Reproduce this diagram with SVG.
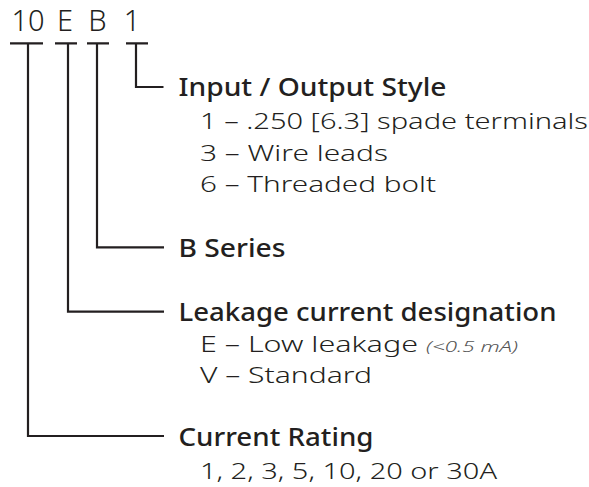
<svg xmlns="http://www.w3.org/2000/svg" width="589" height="487" viewBox="0 0 589 487">
<style>
.code{font-family:"Noto Sans","Liberation Sans",sans-serif;font-size:29px;fill:#231f20;font-weight:300}
.h{font-family:"Noto Sans","Liberation Sans",sans-serif;font-size:25px;fill:#231f20;font-weight:500}
.s{font-family:"Noto Sans","Liberation Sans",sans-serif;font-size:22.5px;fill:#231f20;font-weight:300}
.i{font-family:"Noto Sans","Liberation Sans",sans-serif;font-size:15px;fill:#555;font-style:italic;font-weight:300}
.ln{fill:none;stroke:#231f20;stroke-width:2.2}
</style>
<rect width="589" height="487" fill="#fff"/>
<g id="code">
<text class="code" x="28" y="30.5" text-anchor="middle">10</text>
<text class="code" x="65" y="30.5" text-anchor="middle">E</text>
<text class="code" x="97.5" y="30.5" text-anchor="middle">B</text>
<text class="code" x="132" y="30.5" text-anchor="middle">1</text>
</g>
<g id="connectors">
<path class="ln" d="M10 43.3H43M55 43.3H77M87 43.3H109M126 43.3H148"/>
<path class="ln" d="M136 43V87H163.5"/>
<path class="ln" d="M97 43V247.3H164"/>
<path class="ln" d="M68 43V311.7H164"/>
<path class="ln" d="M28 43V436H164"/>
</g>
<g id="io-style">
<text class="h" x="178.5" y="96" textLength="268" lengthAdjust="spacingAndGlyphs">Input / Output Style</text>
<text class="s" x="200" y="129" textLength="388" lengthAdjust="spacingAndGlyphs">1 – .250 [6.3] spade terminals</text>
<text class="s" x="200" y="161" textLength="188" lengthAdjust="spacingAndGlyphs">3 – Wire leads</text>
<text class="s" x="200" y="192" textLength="236" lengthAdjust="spacingAndGlyphs">6 – Threaded bolt</text>
</g>
<g id="series">
<text class="h" x="178.5" y="257" textLength="107" lengthAdjust="spacingAndGlyphs">B Series</text>
</g>
<g id="leakage">
<text class="h" x="178.5" y="321" textLength="378" lengthAdjust="spacingAndGlyphs">Leakage current designation</text>
<text class="s" x="200" y="352" textLength="218" lengthAdjust="spacingAndGlyphs">E – Low leakage</text>
<text class="i" x="426" y="352" textLength="92" lengthAdjust="spacingAndGlyphs">(&lt;0.5 mA)</text>
<text class="s" x="200" y="383" textLength="172" lengthAdjust="spacingAndGlyphs">V – Standard</text>
</g>
<g id="rating">
<text class="h" x="178.5" y="446" textLength="195" lengthAdjust="spacingAndGlyphs">Current Rating</text>
<text class="s" x="200" y="479" textLength="297" lengthAdjust="spacingAndGlyphs">1, 2, 3, 5, 10, 20 or 30A</text>
</g>
</svg>
